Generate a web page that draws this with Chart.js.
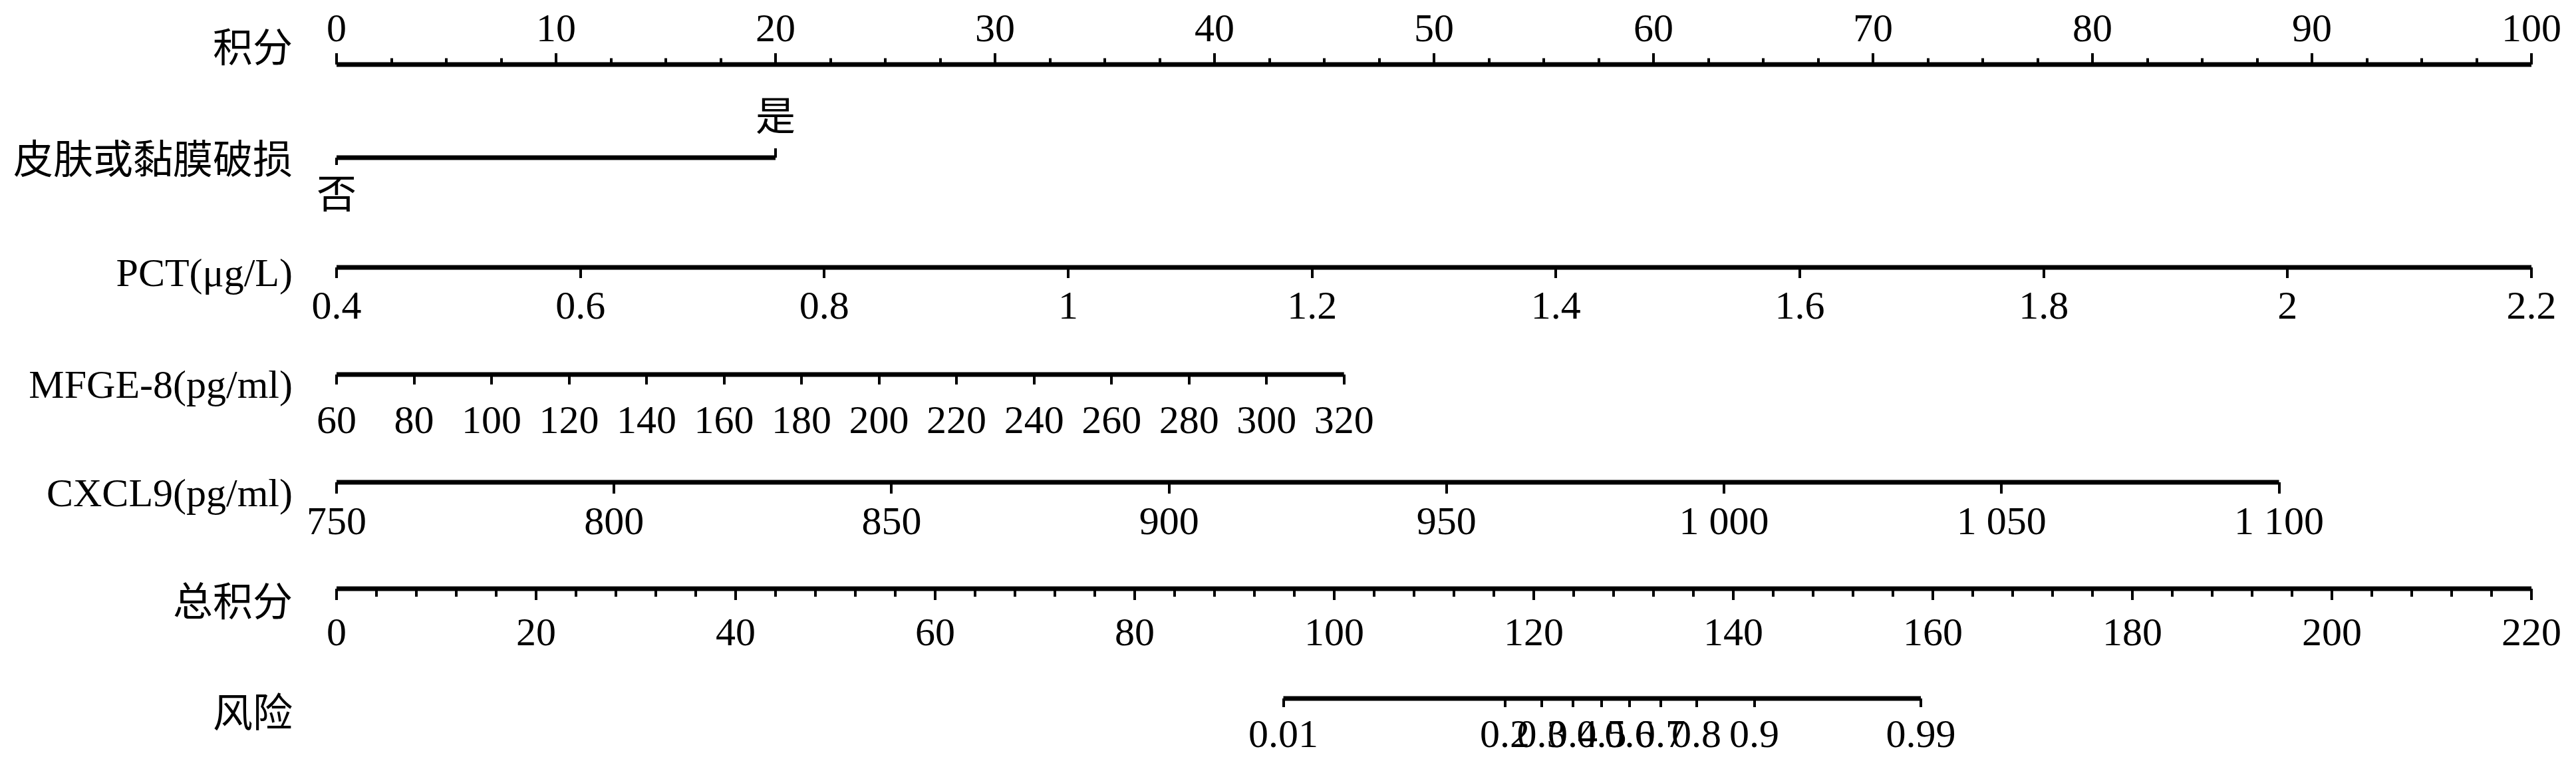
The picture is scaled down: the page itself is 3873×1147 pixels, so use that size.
<!DOCTYPE html>
<html>
<head>
<meta charset="utf-8">
<script src="https://cdn.jsdelivr.net/npm/chart.js@4.4.1/dist/chart.umd.min.js"></script>
<style>
  html, body { margin: 0; padding: 0; background: #fff; }
  #wrap { width: 3873px; height: 1147px; }
</style>
</head>
<body>
<div id="wrap"><canvas id="nomogram"></canvas></div>
<script>
// row names, top to bottom
const rowNames = ["积分", "皮肤或黏膜破损", "PCT(μg/L)", "MFGE-8(pg/ml)", "CXCL9(pg/ml)", "总积分", "风险"];

// points axis
const pointTicks = [0, 10, 20, 30, 40, 50, 60, 70, 80, 90, 100];
const pointLabels = ["0", "10", "20", "30", "40", "50", "60", "70", "80", "90", "100"];

// skin / mucosa damage: no = 0 points, yes = 20 points
const skinLabels = ["否", "是"];
const skinPoints = [0, 20];

// PCT
const pctTicks = [0.4, 0.6, 0.8, 1, 1.2, 1.4, 1.6, 1.8, 2, 2.2];
const pctLabels = ["0.4", "0.6", "0.8", "1", "1.2", "1.4", "1.6", "1.8", "2", "2.2"];
const pctPoints = [0, 100];

// MFGE-8
const mfgeTicks = [60, 80, 100, 120, 140, 160, 180, 200, 220, 240, 260, 280, 300, 320];
const mfgeLabels = ["60", "80", "100", "120", "140", "160", "180", "200", "220", "240", "260", "280", "300", "320"];
const mfgePoints = [0, 45.9];

// CXCL9
const cxclTicks = [750, 800, 850, 900, 950, 1000, 1050, 1100];
const cxclLabels = ["750", "800", "850", "900", "950", "1 000", "1 050", "1 100"];
const cxclPoints = [0, 88.5];

// total points
const totalTicks = [0, 20, 40, 60, 80, 100, 120, 140, 160, 180, 200, 220];
const totalLabels = ["0", "20", "40", "60", "80", "100", "120", "140", "160", "180", "200", "220"];

// risk, placed on the total points scale
const riskLabels = ["0.01", "0.2", "0.3", "0.4", "0.5", "0.6", "0.7", "0.8", "0.9", "0.99"];
const riskTotalPoints = [94.9, 117.1, 120.8, 123.9, 126.8, 129.6, 132.7, 136.3, 142.1, 158.8];

// layout: vertical slot of each row line and of its name
const ROW_Y = [0, 0.881, 1.920, 2.934, 3.954, 4.961, 6];
const NAME_Y = [-0.126, 0.932, 1.996, 3.053, 4.080, 5.119, 6.170];

const FONT = "'Liberation Serif', 'Noto Sans CJK SC', serif";
Chart.defaults.font.family = FONT;
Chart.defaults.font.size = 60;
Chart.defaults.color = '#000';

// scale min/max so that [lo, hi] lands on [p0, p1] of the 0-100 points width
function spanFor(lo, hi, pts) {
  const per = (hi - lo) / (pts[1] - pts[0]);
  return { min: lo - pts[0] * per, max: lo + (100 - pts[0]) * per };
}

function rowAxis(row, span, values, labels, tick, pad) {
  return {
    type: 'linear',
    axis: 'x',
    position: { y: ROW_Y[row] },
    min: span.min,
    max: span.max,
    border: { display: false },
    grid: {
      display: true, drawOnChartArea: false, drawTicks: true,
      tickLength: tick, tickWidth: 4, lineWidth: 4, tickColor: '#000'
    },
    ticks: {
      display: !!labels, autoSkip: false, maxRotation: 0, minRotation: 0,
      padding: pad, color: '#000', font: { size: 60 },
      callback: (v, i) => labels ? labels[i] : ''
    },
    afterBuildTicks: s => { s.ticks = values.map(v => ({ value: v })); },
    afterFit: s => { s.paddingLeft = 0; s.paddingRight = 0; }
  };
}

function rowLine(axisId, row, from, to) {
  return {
    type: 'line',
    xAxisID: axisId,
    yAxisID: 'y',
    data: [{ x: from, y: ROW_Y[row] }, { x: to, y: ROW_Y[row] }],
    borderColor: '#000',
    borderWidth: 7,
    pointRadius: 0,
    clip: false
  };
}

const full = { min: 0, max: 100 };
const totalSpan = { min: 0, max: 220 };
const pctSpan = spanFor(pctTicks[0], pctTicks[pctTicks.length - 1], pctPoints);
const mfgeSpan = spanFor(mfgeTicks[0], mfgeTicks[mfgeTicks.length - 1], mfgePoints);
const cxclSpan = spanFor(cxclTicks[0], cxclTicks[cxclTicks.length - 1], cxclPoints);

const minorPoints = [];
for (let v = 0; v <= 100; v += 2.5) minorPoints.push(v);
const minorTotal = [];
for (let v = 0; v <= 220; v += 4) minorTotal.push(v);

new Chart(document.getElementById('nomogram'), {
  type: 'line',
  data: {
    datasets: [
      rowLine('xPoints', 0, pointTicks[0], pointTicks[pointTicks.length - 1]),
      rowLine('xSkinNo', 1, skinPoints[0], skinPoints[1]),
      rowLine('xPct', 2, pctTicks[0], pctTicks[pctTicks.length - 1]),
      rowLine('xMfge', 3, mfgeTicks[0], mfgeTicks[mfgeTicks.length - 1]),
      rowLine('xCxcl', 4, cxclTicks[0], cxclTicks[cxclTicks.length - 1]),
      rowLine('xTotal', 5, totalTicks[0], totalTicks[totalTicks.length - 1]),
      rowLine('xRisk', 6, riskTotalPoints[0], riskTotalPoints[riskTotalPoints.length - 1])
    ]
  },
  options: {
    responsive: true,
    maintainAspectRatio: false,
    devicePixelRatio: 1,
    animation: false,
    events: [],
    layout: { padding: { left: 0, right: 67, top: 97, bottom: 97 } },
    plugins: { legend: { display: false }, tooltip: { enabled: false } },
    scales: {
      y: {
        type: 'linear',
        position: 'left',
        reverse: true,
        min: 0,
        max: 6,
        border: { display: false },
        grid: { display: false, drawTicks: false },
        ticks: {
          autoSkip: false, padding: 66, color: '#000', font: { size: 60 },
          callback: (v, i) => rowNames[i]
        },
        afterBuildTicks: s => { s.ticks = NAME_Y.map(v => ({ value: v })); },
        afterFit: s => { s.width = 506; s.paddingTop = 0; s.paddingBottom = 0; }
      },
      xPoints: rowAxis(0, full, pointTicks, pointLabels, -17, -70),
      xPointsMinor: rowAxis(0, full, minorPoints, null, -9.5, 0),
      xSkinNo: rowAxis(1, full, [skinPoints[0]], [skinLabels[0]], 11, 13),
      xSkinYes: rowAxis(1, full, [skinPoints[1]], [skinLabels[1]], -14, -79),
      xPct: rowAxis(2, pctSpan, pctTicks, pctLabels, 16, 9),
      xMfge: rowAxis(3, mfgeSpan, mfgeTicks, mfgeLabels, 15, 21),
      xCxcl: rowAxis(4, cxclSpan, cxclTicks, cxclLabels, 17, 9),
      xTotal: rowAxis(5, totalSpan, totalTicks, totalLabels, 17, 16),
      xTotalMinor: rowAxis(5, totalSpan, minorTotal, null, 12, 0),
      xRisk: rowAxis(6, totalSpan, riskTotalPoints, riskLabels, 13, 8)
    }
  }
});
</script>
</body>
</html>
